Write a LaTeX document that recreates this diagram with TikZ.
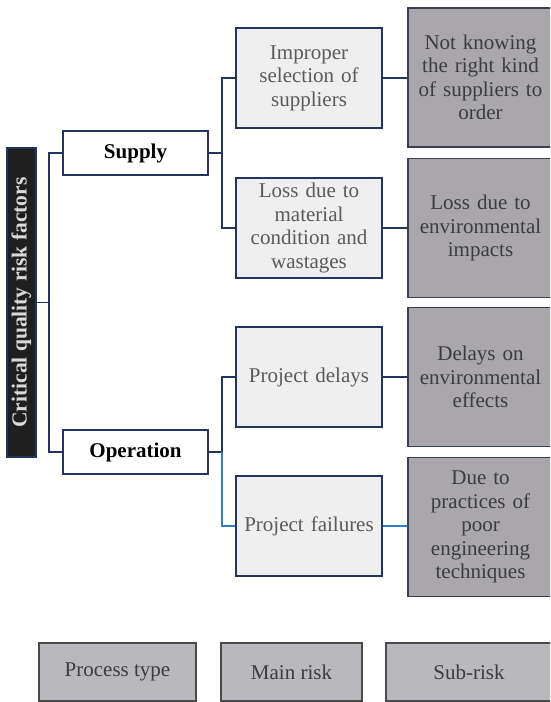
\documentclass[tikz,border=0pt]{standalone}
\usepackage{fontspec}
\setmainfont{Liberation Serif}
\definecolor{navy}{HTML}{23355E}
\definecolor{mainfill}{HTML}{EFEFEF}
\definecolor{subfill}{HTML}{A9A7AB}
\definecolor{subdraw}{HTML}{3A3F52}
\definecolor{legfill}{HTML}{B9B9BD}
\definecolor{legdraw}{HTML}{4A4A4A}
\definecolor{maintext}{HTML}{5A5A5A}
\definecolor{subtext}{HTML}{3C3C3C}
\definecolor{bluel}{HTML}{2D7FC8}
\tikzset{
  conn/.style={draw=navy, line width=1.4pt},
  bconn/.style={draw=bluel, line width=1.4pt},
  titlebox/.style={draw=navy, fill=black!88, line width=1.5pt, minimum width=29pt, minimum height=309pt, inner sep=0pt},
  procbox/.style={draw=navy, fill=white, line width=1.5pt, minimum width=145pt, minimum height=44pt, inner sep=0pt, font=\fontsize{21}{22}\selectfont\bfseries},
  mainbox/.style={draw=navy, fill=mainfill, line width=1.5pt, minimum width=146pt, minimum height=100pt, inner sep=2pt, align=center, text=maintext, font=\fontsize{21}{23.5}\selectfont, text width=142pt},
  subbox/.style={draw=subdraw, fill=subfill, line width=1.5pt, minimum width=143pt, minimum height=139pt, inner sep=2pt, align=center, text=subtext, font=\fontsize{21}{23.5}\selectfont, text width=141pt},
  legbox/.style={draw=legdraw, fill=legfill, line width=1.8pt, minimum height=58pt, inner sep=0pt, text=subtext, font=\fontsize{21}{22}\selectfont},
}
\begin{document}
\begin{tikzpicture}[x=1pt,y=-1pt]
\useasboundingbox (0,0) rectangle (550,702);
\begin{scope}
\clip (0,0) rectangle (550,702);
\node[titlebox] (title) at (21.5,302.5) {\rotatebox{90}{\textcolor{white!85!black}{\fontsize{21.5}{22}\selectfont\bfseries Critical quality risk factors}}};
\node[procbox] (supply) at (135.5,153) {Supply};
\node[procbox] (oper) at (135.5,452) {Operation};
\node[mainbox] (imp) at (309,78) {Improper\\selection of\\suppliers};
\node[mainbox] (loss) at (309,228) {Loss due to\\material\\condition and\\wastages};
\node[mainbox] (delay) at (309,377) {Project delays};
\node[mainbox] (fail) at (309,526) {Project failures};
\node[subbox] (s1) at (480.5,77.5) {Not knowing\\the right kind\\of suppliers to\\order\\[18pt]};
\node[subbox] (s2) at (480.5,228) {Loss due to\\environmental\\impacts\\[18pt]};
\node[subbox] (s3) at (480.5,377) {Delays on\\environmental\\effects\\[20pt]};
\node[subbox] (s4) at (480.5,527) {Due to\\practices of\\poor\\engineering\\techniques};
\node[legbox, minimum width=157pt] (l1) at (117.5,672) {Process type};
\node[legbox, minimum width=141pt] (l2) at (291.5,672) {Main risk};
\node[legbox, minimum width=166pt] (l3) at (469,672) {Sub-risk};
\coordinate (j1) at (49,302.5);
\coordinate (j2) at (222,153);
\coordinate (j3) at (222,452);
\draw[conn] (title.east) -- (j1);
\draw[conn] (supply.west) -| (j1) |- (oper.west);
\draw[conn] (supply.east) -- (j2);
\draw[conn] (imp.west) -| (j2) |- (loss.west);
\draw[conn] (oper.east) -- (j3);
\draw[conn] (delay.west) -| (j3);
\draw[bconn] (j3) |- (fail.west);
\draw[conn] (imp.east) -- (imp.east -| s1.west);
\draw[conn] (loss.east) -- (loss.east -| s2.west);
\draw[conn] (delay.east) -- (delay.east -| s3.west);
\draw[bconn] (fail.east) -- (fail.east -| s4.west);
\end{scope}
\end{tikzpicture}
\end{document}
